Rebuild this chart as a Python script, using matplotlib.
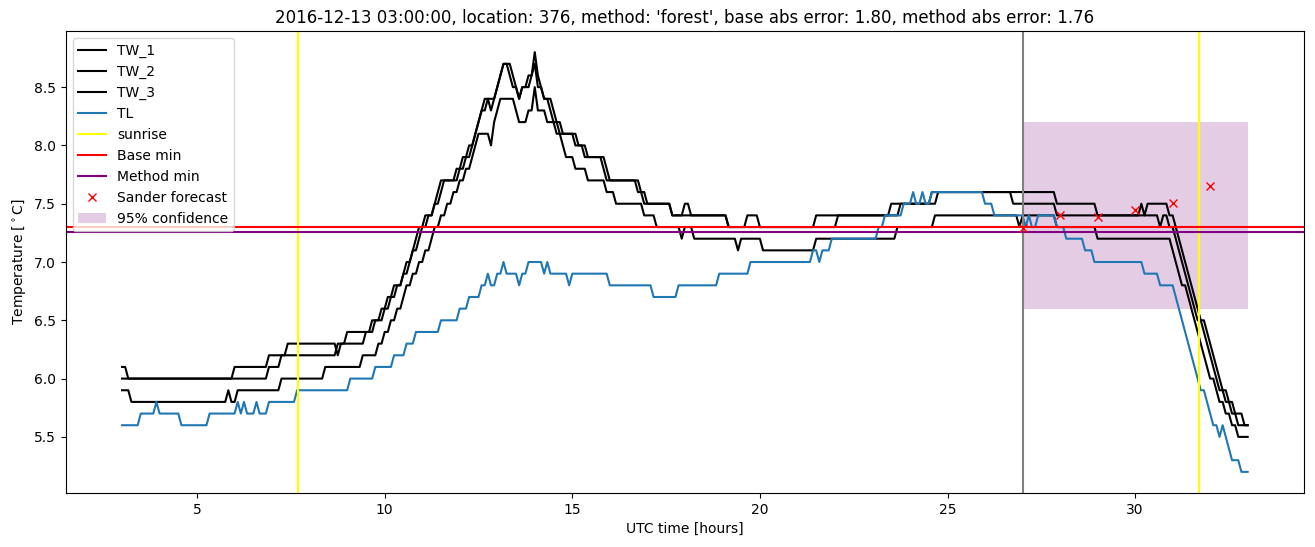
import numpy as np
import matplotlib
matplotlib.use('Agg')
import matplotlib.pyplot as plt

# 5-minute samples from 03:00 to 33:00 (hours since midnight of day 1)
n_samples = 361
hours = 3 + np.arange(n_samples) / 12

# series stored as (sample index where a level starts, level)
tw1_start = [0, 2, 36, 47, 53, 69, 70, 72, 80, 83, 85, 87, 90, 91, 93, 94, 95, 97, 100, 101,
             102, 108, 110, 112, 113, 114, 115, 116, 118, 119, 120, 121, 122, 125, 126, 127, 128,
             130, 132, 133, 134, 135, 138, 139, 141, 146, 149, 155, 156, 166, 168, 176, 180, 182,
             194, 200, 204, 222, 246, 259, 299, 312, 326, 327, 328, 335, 337, 338, 339, 340, 341,
             342, 343, 344, 345, 347, 348, 349, 350, 351, 352, 354, 356, 359]
tw1_level = [6.1, 6.0, 6.1, 6.2, 6.3, 6.2, 6.3, 6.4, 6.5, 6.6, 6.7, 6.8, 6.9, 7.0, 7.1, 7.2, 7.3, 7.4, 7.5, 7.6,
             7.7, 7.8, 7.9, 8.0, 8.1, 8.2, 8.3, 8.4, 8.3, 8.4, 8.5, 8.6, 8.7, 8.6, 8.5, 8.4, 8.5,
             8.6, 8.8, 8.6, 8.5, 8.4, 8.3, 8.2, 8.1, 8.0, 7.9, 7.8, 7.7, 7.6, 7.5, 7.4, 7.5, 7.4,
             7.3, 7.4, 7.3, 7.4, 7.5, 7.6, 7.5, 7.4, 7.5, 7.4, 7.5, 7.4, 7.3, 7.2, 7.1, 7.0, 6.9,
             6.8, 6.7, 6.6, 6.5, 6.4, 6.3, 6.2, 6.1, 6.0, 5.9, 5.8, 5.7, 5.6]

tw2_start = [0, 47, 51, 69, 78, 81, 84, 86, 88, 90, 92, 93, 95, 96, 98, 100, 102, 103, 107, 109,
             111, 113, 114, 115, 117, 120, 121, 122, 124, 125, 127, 128, 131, 132, 133, 135, 137,
             138, 140, 145, 148, 154, 155, 165, 167, 176, 194, 229, 249, 261, 285, 299, 332, 333,
             335, 337, 338, 339, 340, 341, 342, 343, 344, 346, 347, 348, 349, 350, 351, 353, 355, 357]
tw2_level = [6.0, 6.1, 6.2, 6.3, 6.4, 6.5, 6.6, 6.7, 6.8, 6.9, 7.0, 7.1, 7.2, 7.3, 7.4, 7.5, 7.6, 7.7, 7.8, 7.9,
             8.0, 8.1, 8.2, 8.3, 8.4, 8.5, 8.6, 8.7, 8.6, 8.5, 8.4, 8.5, 8.6, 8.7, 8.5, 8.4, 8.3,
             8.2, 8.1, 8.0, 7.9, 7.8, 7.7, 7.6, 7.5, 7.4, 7.3, 7.4, 7.5, 7.6, 7.5, 7.4, 7.3, 7.4,
             7.3, 7.2, 7.1, 7.0, 6.9, 6.8, 6.7, 6.6, 6.5, 6.4, 6.3, 6.2, 6.1, 6.0, 5.9, 5.8, 5.7, 5.6]

tw3_start = [0, 3, 34, 35, 37, 51, 65, 77, 82, 84, 86, 88, 90, 91, 93, 95, 97, 99, 100, 102,
             104, 106, 108, 110, 112, 113, 114, 118, 119, 120, 121, 126, 127, 130, 132, 133, 136,
             139, 141, 142, 145, 149, 155, 158, 167, 171, 179, 180, 183, 197, 198, 205, 222, 248,
             260, 287, 288, 299, 312, 336, 337, 338, 339, 341, 342, 343, 344, 345, 346, 347, 348,
             350, 351, 353, 355, 357]
tw3_level = [5.9, 5.8, 5.9, 5.8, 5.9, 6.0, 6.1, 6.2, 6.3, 6.4, 6.5, 6.6, 6.7, 6.8, 6.9, 7.0, 7.1, 7.2, 7.3, 7.4,
             7.5, 7.6, 7.7, 7.8, 7.9, 8.0, 8.1, 8.0, 8.2, 8.3, 8.4, 8.3, 8.2, 8.3, 8.5, 8.3, 8.2,
             8.1, 8.0, 7.9, 7.8, 7.7, 7.6, 7.5, 7.4, 7.3, 7.2, 7.3, 7.2, 7.1, 7.2, 7.1, 7.2, 7.3,
             7.4, 7.3, 7.4, 7.3, 7.2, 7.1, 7.0, 6.9, 6.8, 6.7, 6.6, 6.5, 6.4, 6.3, 6.2, 6.1, 6.0,
             5.9, 5.8, 5.7, 5.6, 5.5]

tl_start = [0, 6, 11, 12, 19, 28, 37, 38, 39, 40, 43, 44, 47, 56, 73, 81, 87, 91, 94, 102,
            108, 111, 115, 117, 118, 120, 122, 123, 127, 128, 130, 135, 136, 137, 143, 144, 156,
            170, 178, 191, 201, 221, 223, 224, 227, 242, 244, 250, 253, 254, 256, 257, 259, 276,
            279, 289, 290, 291, 293, 299, 302, 308, 311, 327, 332, 337, 338, 339, 340, 341, 342,
            343, 344, 345, 347, 348, 349, 351, 352, 353, 354, 355, 358]
tl_level = [5.6, 5.7, 5.8, 5.7, 5.6, 5.7, 5.8, 5.7, 5.8, 5.7, 5.8, 5.7, 5.8, 5.9, 6.0, 6.1, 6.2, 6.3, 6.4, 6.5,
            6.6, 6.7, 6.8, 6.9, 6.8, 6.9, 7.0, 6.9, 6.8, 6.9, 7.0, 6.9, 7.0, 6.9, 6.8, 6.9, 6.8,
            6.7, 6.8, 6.9, 7.0, 7.1, 7.0, 7.1, 7.2, 7.3, 7.4, 7.5, 7.6, 7.5, 7.6, 7.5, 7.6, 7.5,
            7.4, 7.3, 7.4, 7.3, 7.4, 7.3, 7.2, 7.1, 7.0, 6.9, 6.8, 6.7, 6.6, 6.5, 6.4, 6.3, 6.2,
            6.1, 6.0, 5.9, 5.8, 5.7, 5.6, 5.5, 5.6, 5.5, 5.4, 5.3, 5.2]

sunrise = [7.7, 31.69]
forecast_start = 27
base_min = 7.3
method_min = 7.26
sander_hours = [27, 28, 29, 30, 31, 32]
sander_temp = [7.29, 7.40, 7.39, 7.45, 7.51, 7.65]
conf_hours = [27, 33]
conf_low = 6.6
conf_high = 8.2


def expand(start, level):
    counts = np.diff(start + [n_samples])
    return np.repeat(level, counts)


fig, ax = plt.subplots(figsize=(13.15, 5.47), dpi=100)
fig.subplots_adjust(left=0.050, right=0.9916, top=0.943, bottom=0.099)

ax.plot(hours, expand(tw1_start, tw1_level), color='k', label='TW_1')
ax.plot(hours, expand(tw2_start, tw2_level), color='k', label='TW_2')
ax.plot(hours, expand(tw3_start, tw3_level), color='k', label='TW_3')
ax.plot(hours, expand(tl_start, tl_level), color='C0', label='TL')

ax.axvline(sunrise[0], color='yellow', label='sunrise')
ax.axvline(sunrise[1], color='yellow')
ax.axvline(forecast_start, color='grey')
ax.axhline(base_min, color='red', label='Base min')
ax.axhline(method_min, color='purple', label='Method min')
ax.plot(sander_hours, sander_temp, 'rx', label='Sander forecast')
ax.fill_between(conf_hours, conf_low, conf_high, color='purple', alpha=0.2,
                linewidth=0, label='95% confidence')

ax.set_xlabel('UTC time [hours]')
ax.set_ylabel(r'Temperature [$^\circ$C]')
ax.set_title("2016-12-13 03:00:00, location: 376, method: 'forest', "
             "base abs error: 1.80, method abs error: 1.76")
ax.legend(loc='upper left')

fig.savefig('out.png')
